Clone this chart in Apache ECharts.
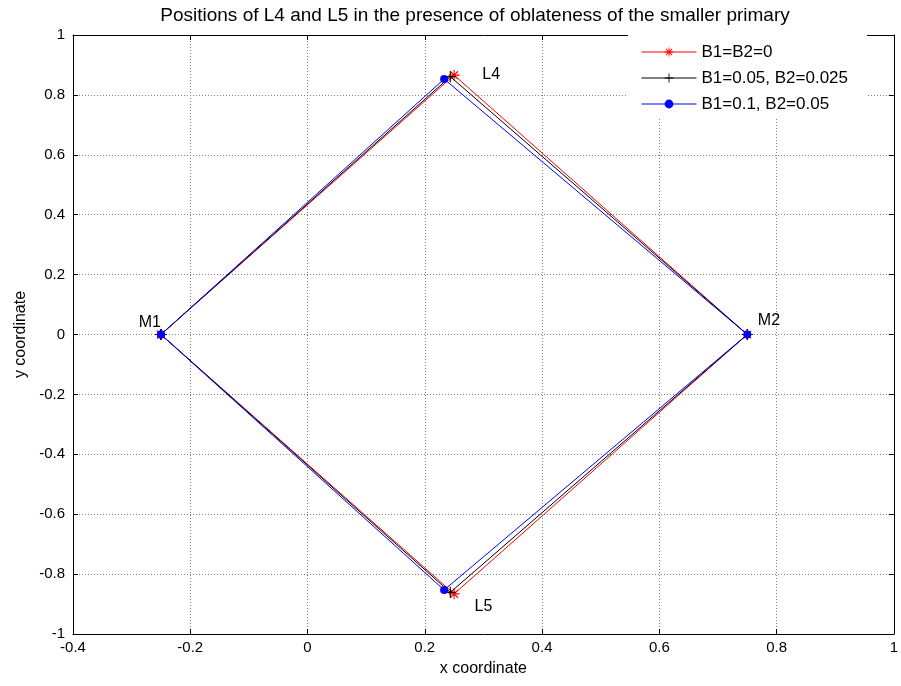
<!DOCTYPE html>
<html>
<head>
<meta charset="utf-8">
<script src="https://cdn.jsdelivr.net/npm/echarts@6/dist/echarts.min.js"></script>
<style>
  html, body { margin: 0; padding: 0; background: #fff; }
  #chart { width: 901px; height: 686px; }
</style>
</head>
<body>
<div id="chart"></div>
<script>
// Primaries and triangular points for each oblateness case
const seriesNames = ['B1=B2=0', 'B1=0.05, B2=0.025', 'B1=0.1, B2=0.05'];
const m1 = [-0.25, 0];
const m2 = [0.75, 0];
const l4Points = [[0.25, 0.866], [0.2435, 0.861], [0.233, 0.853]];
const l5Points = [[0.25, -0.866], [0.2435, -0.861], [0.233, -0.853]];

// Text annotations
const pointLabels = ['M1', 'M2', 'L4', 'L5'];
const pointLabelPos = [[-0.288, 0.04], [0.768, 0.048], [0.298, 0.868], [0.285, -0.907]];

// Tick values
const xTicks = [-0.4, -0.2, 0, 0.2, 0.4, 0.6, 0.8, 1];
const yTicks = [-1, -0.8, -0.6, -0.4, -0.2, 0, 0.2, 0.4, 0.6, 0.8, 1];

const FONT = '"Liberation Sans", Arial, sans-serif';

// Marker shapes built from thin bars
function barPoly(angleDeg, len, half) {
  const a = angleDeg * Math.PI / 180;
  const c = Math.cos(a), s = Math.sin(a);
  const pts = [[-len, -half], [len, -half], [len, half], [-len, half]].map(p =>
    [p[0] * c - p[1] * s, p[0] * s + p[1] * c]);
  return 'M' + pts.map(p => p[0].toFixed(3) + ',' + p[1].toFixed(3)).join(' L') + ' Z';
}
const plusPath = 'path://' + barPoly(0, 5, 0.5) + ' ' + barPoly(90, 5, 0.5);
const starPath = 'path://' + barPoly(0, 5, 0.5) + ' ' + barPoly(90, 5, 0.5) +
  ' ' + barPoly(45, 5, 0.5) + ' ' + barPoly(-45, 5, 0.5);

const colors = ['#ff0000', '#000000', '#0000ff'];
const symbols = [starPath, plusPath, 'circle'];
const symbolSizes = [11, 11, 8];

const series = seriesNames.map((name, i) => ({
  name: name,
  type: 'line',
  data: [m1, l4Points[i], m2, l5Points[i], m1],
  symbol: symbols[i],
  symbolSize: symbolSizes[i],
  showAllSymbol: true,
  lineStyle: { color: colors[i], width: 1 },
  itemStyle: { color: colors[i] },
  animation: false,
  z: 3 + i
}));

series.push({
  type: 'scatter',
  data: pointLabelPos.map((p, i) => ({ value: p, name: pointLabels[i] })),
  symbolSize: 0,
  silent: true,
  animation: false,
  itemStyle: { opacity: 1 },
  label: {
    show: true,
    formatter: p => p.name,
    position: [0, 0],
    align: 'left',
    verticalAlign: 'middle',
    fontFamily: FONT,
    fontSize: 16,
    color: '#000',
    opacity: 1
  },
  z: 10
});

const gridLine = { show: true, lineStyle: { color: '#808080', type: [1, 2], width: 1 } };
const axisLine = { show: true, onZero: false, lineStyle: { color: '#000', width: 1 } };
const tickIn = { show: true, inside: true, length: 5, lineStyle: { color: '#000' } };

const chart = echarts.init(document.getElementById('chart'), null, { renderer: 'canvas' });
chart.setOption({
  backgroundColor: '#fff',
  animation: false,
  title: {
    text: 'Positions of L4 and L5 in the presence of oblateness of the smaller primary',
    left: 470,
    top: 1,
    textAlign: 'center',
    textStyle: { fontFamily: FONT, fontSize: 19, fontWeight: 'normal', color: '#000' }
  },
  grid: { left: 73, right: 7, top: 35, bottom: 52 },
  legend: {
    data: seriesNames,
    orient: 'vertical',
    left: 628,
    top: 35,
    padding: [8, 19, 6, 13],
    itemGap: 8,
    itemWidth: 55,
    itemHeight: 11,
    backgroundColor: '#fff',
    lineStyle: { width: 1 },
    textStyle: { fontFamily: FONT, fontSize: 17, lineHeight: 18, color: '#000' },
    z: 20
  },
  xAxis: [{
    type: 'value', min: -0.4, max: 1, interval: 0.2,
    position: 'bottom',
    axisLine: axisLine, axisTick: tickIn, splitLine: gridLine,
    axisLabel: { fontFamily: FONT, fontSize: 15, color: '#000', margin: 6,
      formatter: v => String(parseFloat(v.toFixed(2))) },
    name: 'x coordinate', nameLocation: 'middle', nameGap: 27,
    nameTextStyle: { fontFamily: FONT, fontSize: 16, color: '#000' }
  }, {
    type: 'value', min: -0.4, max: 1, interval: 0.2,
    position: 'top',
    axisLine: axisLine, axisTick: tickIn, splitLine: { show: false },
    axisLabel: { show: false }
  }],
  yAxis: [{
    type: 'value', min: -1, max: 1, interval: 0.2,
    position: 'left',
    axisLine: axisLine, axisTick: tickIn, splitLine: gridLine,
    axisLabel: { fontFamily: FONT, fontSize: 15, color: '#000', margin: 8,
      formatter: v => String(parseFloat(v.toFixed(2))) },
    name: 'y coordinate', nameLocation: 'middle', nameGap: 44,
    nameTextStyle: { fontFamily: FONT, fontSize: 16, color: '#000' }
  }, {
    type: 'value', min: -1, max: 1, interval: 0.2,
    position: 'right',
    axisLine: axisLine, axisTick: tickIn, splitLine: { show: false },
    axisLabel: { show: false }
  }],
  series: series
});
</script>
</body>
</html>
